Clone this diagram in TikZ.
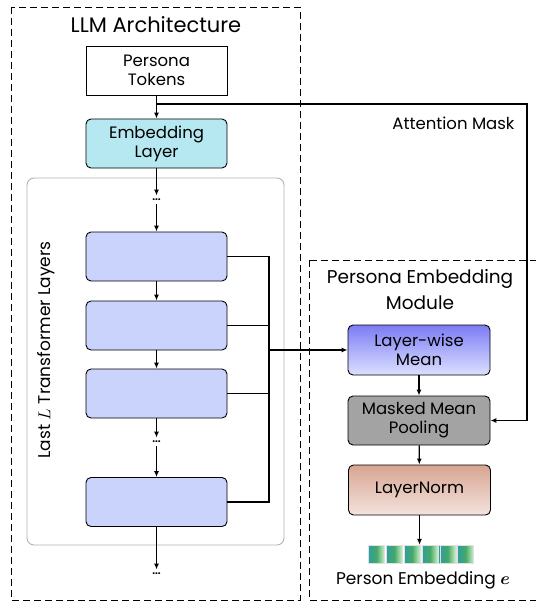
\documentclass[tikz,border=0pt]{standalone}
\usepackage{fontspec}
\usepackage{amsmath}
\usepackage{bm}
\setmainfont{Poppins}
\usetikzlibrary{arrows.meta}

\definecolor{embfill}{HTML}{B5E8F0}
\definecolor{layfill}{HTML}{C9D3FB}
\definecolor{poolfill}{HTML}{A3A3A3}
\definecolor{meantop}{HTML}{7C7CF4}
\definecolor{meanbot}{HTML}{DCE0FF}
\definecolor{normtop}{HTML}{D8A593}
\definecolor{normbot}{HTML}{F3E3DD}
\definecolor{vecleft}{HTML}{2E9EA0}
\definecolor{vecmid}{HTML}{45A868}
\definecolor{vecright}{HTML}{CDEFC8}
\tikzset{
	blk/.style={draw, line width=0.9pt, rounded corners=5pt, minimum width=141pt, minimum height=49pt, align=center, font=\fontsize{16.5}{19}\selectfont},
	flow/.style={-{Latex[length=6pt,width=5pt]}, line width=1.2pt},
	wire/.style={line width=1.2pt},
	frame/.style={dashed, dash pattern=on 7pt off 4pt, line width=0.8pt},
	cell/.style={draw=black!12, line width=0.4pt, left color=vecleft, right color=vecright, middle color=vecmid, minimum width=16pt, minimum height=18pt, inner sep=0pt}
}

\begin{document}
\begin{tikzpicture}[x=1pt,y=-1pt]
	\useasboundingbox (0,0) rectangle (535,604);
	% frames
	\draw [frame] (11,7) rectangle (300,600);
	\draw [frame] (309,260) rectangle (545,600);
	\node (llmtitle) at (156,25) {\fontsize{21}{24}\selectfont LLM Architecture};
	\node (pemtitle)[align=center, font=\fontsize{18.5}{26}\selectfont] at (420,290) {Persona Embedding\\Module};

	% transformer group
	\node (grp)[draw=black!30, line width=0.9pt, rounded corners=7pt, minimum width=257pt, minimum height=367pt] at (155.5,361.5) {};
	\node (grplab)[rotate=90, font=\fontsize{17}{19}\selectfont] at (46,350) {Last $L$ Transformer Layers};

	\node (tok)[blk, rounded corners=0pt, line width=0.7pt] at (156.5,70.5) {Persona\\Tokens};
	\node (emb)[blk, fill=embfill] at (156.5,143.5) {Embedding\\Layer};
	\node (d1) at (156.5,200) {\textbf{...}};
	\node (l1)[blk, fill=layfill] at (156.5,256.5) {};
	\node (l2)[blk, fill=layfill] at (156.5,325.5) {};
	\node (l3)[blk, fill=layfill] at (156.5,393.5) {};
	\node (d2) at (156.5,442) {\textbf{...}};
	\node (l4)[blk, fill=layfill] at (156.5,502) {};
	\node (d3) at (156.5,574) {\textbf{...}};

	\node (lwm)[blk, top color=meantop, bottom color=meanbot, minimum width=142pt, minimum height=50pt] at (419,350) {Layer-wise\\Mean};
	\node (mmp)[blk, fill=poolfill, minimum width=142pt] at (419,420.5) {Masked Mean\\Pooling};
	\node (ln)[blk, top color=normtop, bottom color=normbot, minimum width=142pt, minimum height=50pt] at (419.5,490) {LayerNorm};

	% embedding vector
	\foreach \i in {0,...,5}
		\node (v\i)[cell] at (376.5+17.8*\i,554) {};
	\node (vlab)[font=\fontsize{17}{19}\selectfont] at (423,580) {Person Embedding $\bm{e}$};
	\node (amlab)[anchor=east, font=\fontsize{16.5}{19}\selectfont] at (518,123) {Attention Mask};

	\coordinate (split) at (156.5,104);
	\coordinate (amc) at (527,104);
	\coordinate (bus) at (269,350);

	\draw [flow] (tok) -- (emb);
	\draw [flow] (emb) -- (d1.north);
	\draw [flow] (d1.south) -- (l1);
	\draw [flow] (l1) -- (l2);
	\draw [flow] (l2) -- (l3);
	\draw [flow] (l3) -- (d2.north);
	\draw [flow] (d2.south) -- (l4);
	\draw [flow] (l4) -- (d3.north);

	\draw [wire] (l1.east) -| (bus);
	\draw [wire] (l4.east) -| (bus);
	\draw [wire] (l2.east) -- (l2.east -| bus);
	\draw [wire] (l3.east) -- (l3.east -| bus);
	\draw [flow] (bus) -- (lwm);

	\draw [flow] (split) -- (amc) |- (mmp.east);
	\draw [flow] (lwm) -- (mmp);
	\draw [flow] (mmp) -- (ln);
	\draw [flow] (ln) -- (ln.south |- v0.north);
\end{tikzpicture}
\end{document}
